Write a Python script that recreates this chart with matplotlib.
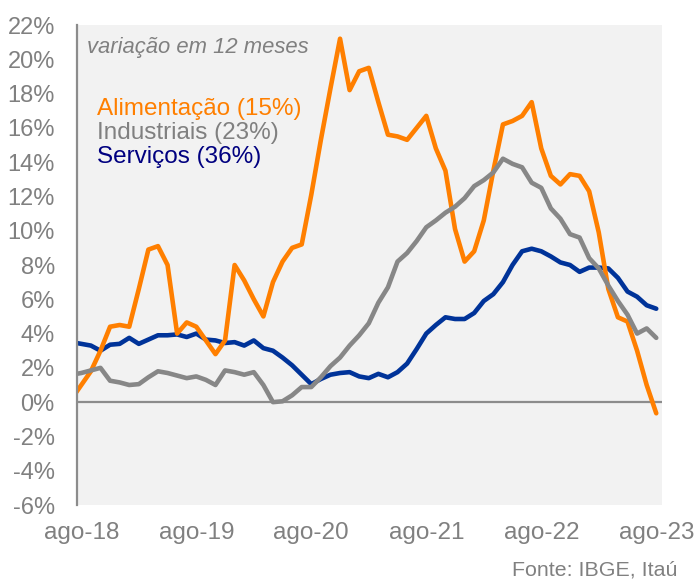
import numpy as np
import pandas as pd
import matplotlib
matplotlib.use("Agg")
import matplotlib.pyplot as plt

plt.rcParams['font.family'] = ['Liberation Sans', 'DejaVu Sans']

# Monthly, jul-18 .. ago-23 (12-month change, %)
months = [d.strftime('%m-%y') for d in pd.date_range('2018-07-01', '2023-08-01', freq='MS')]
pt_month = {'01': 'jan', '02': 'fev', '03': 'mar', '04': 'abr', '05': 'mai', '06': 'jun',
            '07': 'jul', '08': 'ago', '09': 'set', '10': 'out', '11': 'nov', '12': 'dez'}
months = [pt_month[m[:2]] + '-' + m[3:] for m in months]

alimentacao = [0.2, 1.0, 1.8, 3.0, 4.4, 4.5, 4.4, 6.6, 8.9, 9.1, 8.0, 4.0, 4.65, 4.4, 3.6, 2.8,
               3.6, 8.0, 7.1, 6.0, 5.0, 7.0, 8.2, 9.0, 9.2, 12.1, 15.3, 18.3, 21.2, 18.2, 19.3,
               19.5, 17.5, 15.6, 15.5, 15.3, 16.0, 16.7, 14.8, 13.5, 10.1, 8.2, 8.8, 10.6, 13.5,
               16.2, 16.4, 16.7, 17.5, 14.8, 13.2, 12.7, 13.3, 13.2, 12.3, 9.9, 6.6, 4.95, 4.7,
               3.0, 1.0, -0.65]
industriais = [1.6, 1.7, 1.85, 2.0, 1.25, 1.15, 1.0, 1.05, 1.45, 1.8, 1.7, 1.55, 1.4, 1.5, 1.3,
               1.0, 1.85, 1.75, 1.6, 1.75, 1.0, 0.0, 0.05, 0.4, 0.88, 0.88, 1.45, 2.1, 2.6, 3.3,
               3.9, 4.6, 5.8, 6.7, 8.2, 8.7, 9.4, 10.2, 10.6, 11.05, 11.4, 11.9, 12.6, 12.95,
               13.4, 14.2, 13.9, 13.7, 12.8, 12.5, 11.3, 10.7, 9.8, 9.6, 8.4, 7.8, 6.8, 5.9,
               5.1, 4.0, 4.3, 3.75]
servicos = [3.5, 3.4, 3.3, 3.0, 3.35, 3.4, 3.75, 3.4, 3.65, 3.9, 3.9, 3.95, 3.8, 4.0, 3.65,
            3.6, 3.45, 3.5, 3.3, 3.6, 3.15, 3.0, 2.6, 2.15, 1.6, 1.05, 1.35, 1.6, 1.7, 1.75,
            1.5, 1.4, 1.65, 1.45, 1.75, 2.25, 3.1, 4.0, 4.5, 4.95, 4.85, 4.85, 5.2, 5.9, 6.3,
            7.0, 8.0, 8.8, 8.95, 8.8, 8.5, 8.15, 8.0, 7.6, 7.85, 7.85, 7.8, 7.25, 6.45, 6.15,
            5.65, 5.45]

series_names = ['Alimentação (15%)', 'Industriais (23%)', 'Serviços (36%)']
tick_months = ['ago-18', 'ago-19', 'ago-20', 'ago-21', 'ago-22', 'ago-23']
yticks = list(range(-6, 23, 2))

ORANGE = '#FF7F00'
GRAY = '#878787'
BLUE = '#003399'
NAVY = '#000080'
TXT = '#808080'

W, H = 697, 582
fig = plt.figure(figsize=(W / 100, H / 100), dpi=100)
ax = fig.add_axes([77 / W, 1 - 505 / H, (662 - 77) / W, (505 - 25) / H])
ax.set_facecolor('#F2F2F2')

x = np.arange(len(months))
ax.plot(x, servicos, color=BLUE, lw=3.3, solid_joinstyle='round', solid_capstyle='round', zorder=3)
ax.plot(x, alimentacao, color=ORANGE, lw=3.3, solid_joinstyle='round', solid_capstyle='round', zorder=4)
ax.plot(x, industriais, color=GRAY, lw=3.3, solid_joinstyle='round', solid_capstyle='round', zorder=5)

ax.axhline(0, color='#8C8C8C', lw=1.6, zorder=2)

ax.set_xlim(months.index('ago-18') - 0.45, months.index('ago-23') + 0.6)
ax.set_ylim(-6, 22)

for s in ['top', 'right', 'bottom']:
    ax.spines[s].set_visible(False)
ax.spines['left'].set_color('#8C8C8C')
ax.spines['left'].set_linewidth(1.6)
ax.spines['left'].set_zorder(6)

ax.set_yticks(yticks)
ax.set_yticklabels([f'{v}%' for v in yticks])
ax.set_xticks([months.index(m) for m in tick_months])
ax.set_xticklabels(tick_months)
ax.tick_params(axis='y', length=0, pad=16, labelsize=17, labelcolor=TXT)
ax.tick_params(axis='x', length=0, pad=12, labelsize=17.5, labelcolor=TXT)

def ftxt(px, py, s, **kw):
    fig.text(px / W, 1 - py / H, s, va='baseline', **kw)

ftxt(87, 53, 'variação em 12 meses', fontsize=15.8, style='italic', color=TXT)
ftxt(97, 114.5, series_names[0], fontsize=17.5, color=ORANGE)
ftxt(97, 138.5, series_names[1], fontsize=17.5, color=TXT)
ftxt(97, 162.5, series_names[2], fontsize=17.5, color=NAVY)
ftxt(677, 576, 'Fonte: IBGE, Itaú', fontsize=15.4, color=TXT, ha='right')

fig.savefig('out.png', dpi=100)
